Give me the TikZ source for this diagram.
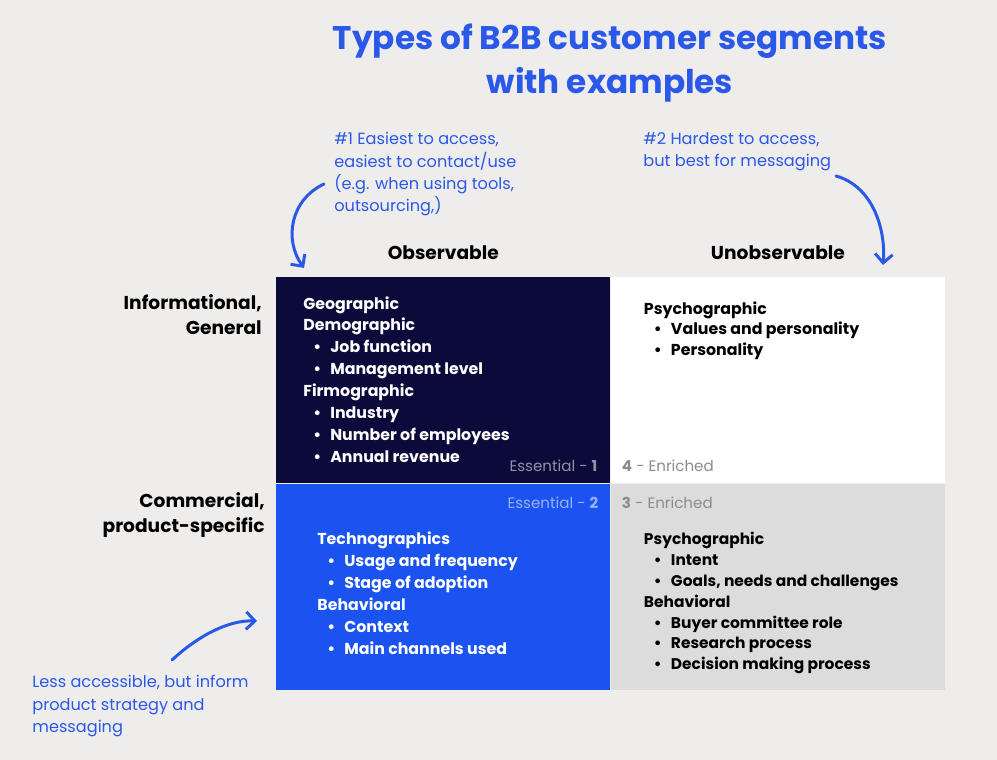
\documentclass[tikz,border=0pt]{standalone}
\usepackage{fontspec}
\setmainfont{Poppins}
\usetikzlibrary{positioning,arrows.meta}
\definecolor{pagebg}{HTML}{EFEDEC}
\definecolor{navy}{HTML}{0B0A3A}
\definecolor{brightblue}{HTML}{1A53F0}
\definecolor{quadgray}{HTML}{DCDCDC}
\definecolor{inkblue}{HTML}{2A58E8}
\definecolor{labelgray}{HTML}{8C8C8C}
\newcommand{\bulletline}[1]{\hspace*{0.2cm}\makebox[0.34cm][l]{\textbullet}#1}

\begin{document}
\begin{tikzpicture}[x=0.02cm,y=-0.02cm]
  \tikzset{quad/.style = {rectangle, inner sep=0, minimum width=6.68cm, minimum height=4.12cm, anchor=north west},
           listtext/.style = {inner sep=0, anchor=north west, align=left, font=\fontsize{9}{12.5}\selectfont\bfseries},
           note/.style = {inner sep=0, anchor=north west, align=left, text=inkblue, font=\fontsize{9.2}{12.75}\selectfont},
           header/.style = {inner sep=0, font=\fontsize{10.6}{14.2}\selectfont\bfseries},
           corner/.style = {inner sep=0, font=\fontsize{8.6}{10}\selectfont},
           curvy/.style = {inkblue, line width=1.7pt, line cap=round, -{Straight Barb[length=5pt,width=10pt]}}}
  \fill[pagebg] (0,0) rectangle (997,760);

  \node[inner sep=0, align=center, text=inkblue, font=\fontsize{18.6}{25}\selectfont\bfseries] (title) at (610,63) {Types of B2B customer segments\\with examples};

  % the four quadrants
  \node[quad, fill=navy] (q1) at (276,277) {};
  \node[quad, fill=white, right=0pt of q1] (q4) {};
  \node[quad, fill=brightblue, below=0pt of q1] (q2) {};
  \node[quad, fill=quadgray, right=0pt of q2] (q3) {};

  \node[header] (obs) at ([shift={(0,-24)}]q1.north) {Observable};
  \node[header] (unobs) at ([shift={(0,-24)}]q4.north) {Unobservable};
  \node[header, anchor=north east, align=right] (info) at ([shift={(-14,17)}]q1.north west) {Informational,\\General};
  \node[header, anchor=north east, align=right] (comm) at ([shift={(-11,9)}]q2.north west) {Commercial,\\product-specific};

  \node[listtext, text=white] (q1text) at ([shift={(27,19)}]q1.north west) {Geographic\\Demographic\\\bulletline{Job function}\\\bulletline{Management level}\\Firmographic\\\bulletline{Industry}\\\bulletline{Number of employees}\\\bulletline{Annual revenue}};
  \node[listtext, text=black, font=\fontsize{9}{11.9}\selectfont\bfseries] (q4text) at ([shift={(33,24)}]q4.north west) {Psychographic\\\bulletline{Values and personality}\\\bulletline{Personality}};
  \node[listtext, text=white] (q2text) at ([shift={(41,48)}]q2.north west) {Technographics\\\bulletline{Usage and frequency}\\\bulletline{Stage of adoption}\\Behavioral\\\bulletline{Context}\\\bulletline{Main channels used}};
  \node[listtext, text=black, font=\fontsize{8.8}{11.9}\selectfont\bfseries] (q3text) at ([shift={(33,48)}]q3.north west) {Psychographic\\\bulletline{Intent}\\\bulletline{Goals, needs and challenges}\\Behavioral\\\bulletline{Buyer committee role}\\\bulletline{Research process}\\\bulletline{Decision making process}};

  \node[corner, anchor=east, text=navy!45!white] (ess1) at ([shift={(-13,-18)}]q1.south east) {Essential - \textbf{1}};
  \node[corner, anchor=east, text=brightblue!45!white] (ess2) at ([shift={(-12,19)}]q2.north east) {Essential - \textbf{2}};
  \node[corner, anchor=west, text=labelgray] (enr4) at ([shift={(11,-18)}]q4.south west) {\textbf{4} - Enriched};
  \node[corner, anchor=west, text=labelgray] (enr3) at ([shift={(11,19)}]q3.north west) {\textbf{3} - Enriched};

  % notes and their arrows
  \node[note] (easy) at (334,132) {\#1 Easiest to access,\\easiest to contact/use\\(e.g. when using tools,\\outsourcing,)};
  \node[note] (hard) at (643,132) {\#2 Hardest to access,\\but best for messaging};
  \node[note] (less) at (32,675) {Less accessible, but inform\\product strategy and\\messaging};
  \coordinate (easytip) at (304,268);
  \coordinate (hardtip) at (883,265);
  \coordinate (lesstip) at (257,621);
  \draw[curvy] ([shift={(-10,52)}]easy.north west) .. controls (290,200) and (284,240) .. (easytip);
  \draw[curvy] ([shift={(193,44)}]hard.north west) .. controls (872,186) and (886,228) .. (hardtip);
  \draw[curvy] ([shift={(140,-15)}]less.north west) .. controls (198,636) and (228,620) .. (lesstip);
\end{tikzpicture}
\end{document}
